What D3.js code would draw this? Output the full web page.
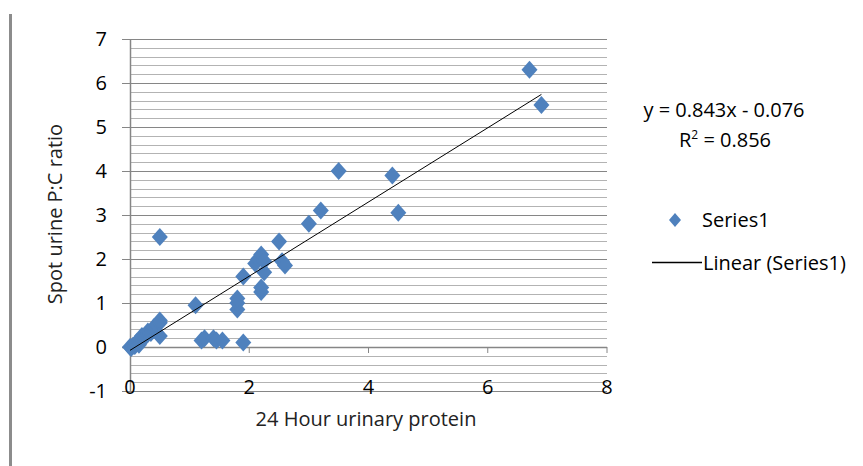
<!DOCTYPE html>
<html><head><meta charset="utf-8">
<script src="https://cdn.jsdelivr.net/npm/d3@7"></script>
<style>body{margin:0;background:#fff;}svg{display:block;font-family:"Open Sans",sans-serif;}</style>
</head><body>
<svg id="c" width="863" height="466"></svg>
<script>
const xValues = [0,0.02,0.05,0.08,0.1,0.12,0.15,0.15,0.2,0.2,0.25,0.3,0.3,0.35,0.4,0.4,0.45,0.5,0.5,0.5,
  1.1,1.2,1.25,1.4,1.45,1.55,1.9,
  1.8,1.8,1.8,1.9,2.2,2.2,2.25,2.1,2.15,2.2,2.25,2.55,2.6,2.5,
  0.5,3.0,3.2,3.5,4.4,4.5,6.7,6.9];
const yValues = [0,-0.02,0.03,0.02,0.08,0.12,0.1,0.05,0.18,0.25,0.22,0.3,0.35,0.32,0.4,0.45,0.5,0.55,0.6,0.25,
  0.95,0.15,0.2,0.2,0.15,0.15,0.1,
  0.85,1.0,1.1,1.6,1.25,1.35,1.7,1.9,2.0,2.1,1.95,1.95,1.85,2.4,
  2.5,2.8,3.1,4.0,3.9,3.05,6.3,5.5];
const xTicks = [0,2,4,6,8];
const yTicks = [-1,0,1,2,3,4,5,6,7];
const slope = 0.843, intercept = -0.076;
const eqText = "y = 0.843x - 0.076";
const r2Value = "0.856";
const xTitle = "24 Hour urinary protein";
const yTitle = "Spot urine P:C ratio";
const seriesName = "Series1";
const trendName = "Linear (Series1)";

const svg = d3.select("#c");
const x = d3.scaleLinear().domain([0,8]).range([130,607]);
const y = d3.scaleLinear().domain([-1,7]).range([391,39]);

// left border
svg.append("rect").attr("x",9).attr("y",14).attr("width",3).attr("height",452).attr("fill","#8c8c8c");

// minor gridlines
const minor = d3.range(-1,7.001,0.2).filter(v=>Math.abs(v-Math.round(v))>1e-6);
svg.append("g").selectAll("line").data(minor).join("line")
  .attr("x1",x(0)).attr("x2",x(8)).attr("y1",d=>Math.round(y(d))+0.5).attr("y2",d=>Math.round(y(d))+0.5)
  .attr("stroke","#b3b3b3").attr("stroke-width",1);
// major gridlines
svg.append("g").selectAll("line").data(yTicks).join("line")
  .attr("x1",x(0)-8).attr("x2",x(8)).attr("y1",d=>Math.round(y(d))+0.5).attr("y2",d=>Math.round(y(d))+0.5)
  .attr("stroke","#868686").attr("stroke-width",d=>d===0?1.5:1);

// y axis line
svg.append("line").attr("x1",x(0)+0.5).attr("x2",x(0)+0.5).attr("y1",y(7)).attr("y2",y(-1))
  .attr("stroke","#868686").attr("stroke-width",1.5);
// x ticks at y=0
svg.append("g").selectAll("line").data(xTicks.filter(d=>d>0)).join("line")
  .attr("x1",d=>x(d)).attr("x2",d=>x(d)).attr("y1",y(0)).attr("y2",y(0)+6)
  .attr("stroke","#868686").attr("stroke-width",1);

// y tick labels
svg.append("g").selectAll("text").data(yTicks).join("text")
  .attr("x",107).attr("y",d=>y(d)+7).attr("text-anchor","end")
  .attr("font-size",20).attr("fill","#000").text(d=>d);
// x tick labels
svg.append("g").selectAll("text").data(xTicks).join("text")
  .attr("x",d=>x(d)).attr("y",394).attr("text-anchor","middle")
  .attr("font-size",20).attr("fill","#000").text(d=>d);

// axis titles
svg.append("text").attr("x",366).attr("y",426).attr("text-anchor","middle").attr("font-size",20).attr("fill","#222").text(xTitle);
svg.append("text").attr("transform","translate(62,214) rotate(-90)").attr("text-anchor","middle").attr("font-size",20).attr("fill","#222").text(yTitle);

// points
const pts = xValues.map((v,i)=>[v,yValues[i]]);
const diamond = "M0,-9L8,0L0,9L-8,0Z";
svg.append("g").selectAll("path").data(pts).join("path")
  .attr("d",diamond).attr("transform",d=>`translate(${x(d[0])},${y(d[1])})`)
  .attr("fill","#4f81bd");

// trendline
const xmin = d3.min(xValues), xmax = d3.max(xValues);
svg.append("line").attr("x1",x(xmin)).attr("y1",y(slope*xmin+intercept))
  .attr("x2",x(xmax)).attr("y2",y(slope*xmax+intercept))
  .attr("stroke","#000").attr("stroke-width",1);

// equation
svg.append("text").attr("x",724).attr("y",117).attr("text-anchor","middle").attr("font-size",20).attr("fill","#000").text(eqText);
const r2 = svg.append("text").attr("x",725).attr("y",147).attr("text-anchor","middle").attr("font-size",20).attr("fill","#000");
r2.append("tspan").text("R");
r2.append("tspan").attr("font-size",12).attr("dy",-8).text("2");
r2.append("tspan").attr("dy",8).text(" = " + r2Value);

// legend
svg.append("path").attr("d","M0,-7L6,0L0,7L-6,0Z").attr("transform","translate(675,220)").attr("fill","#4f81bd");
svg.append("text").attr("x",702).attr("y",227).attr("font-size",20).attr("fill","#000").text(seriesName);
svg.append("line").attr("x1",652).attr("x2",702).attr("y1",262.5).attr("y2",262.5).attr("stroke","#000").attr("stroke-width",1.5);
svg.append("text").attr("x",703).attr("y",270).attr("font-size",20).attr("fill","#000").text(trendName);
</script>
</body></html>
